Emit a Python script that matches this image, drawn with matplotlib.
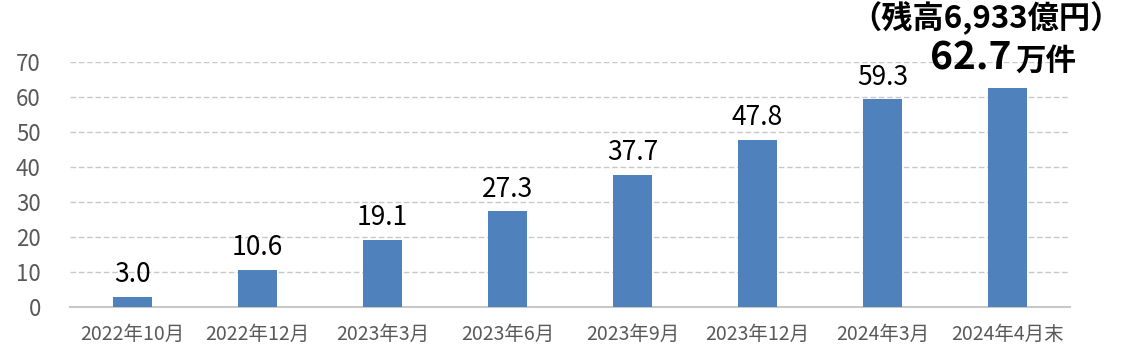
import matplotlib.pyplot as plt

plt.rcParams["font.family"] = ["Noto Sans CJK JP", "DejaVu Sans"]

categorias = ["2022年10月", "2022年12月", "2023年3月", "2023年6月",
              "2023年9月", "2023年12月", "2024年3月", "2024年4月末"]
valores = [3.0, 10.6, 19.1, 27.3, 37.7, 47.8, 59.3, 62.7]
etiquetas = ["3.0", "10.6", "19.1", "27.3", "37.7", "47.8", "59.3"]
yticks = [0, 10, 20, 30, 40, 50, 60, 70]

titulo = "（残高6,933億円）"
total = "62.7"
unidad = "万件"

COLOR_BARRA = "#4f81bd"
COLOR_TEXTO = "#595959"

W, H = 1132, 359


def main():
    fig = plt.figure(figsize=(W / 100, H / 100), dpi=100)
    ax = fig.add_axes([70 / W, 1 - 307 / H, 1000 / W, 245 / H])

    x = range(len(categorias))
    ax.bar(x, valores, width=0.31, color=COLOR_BARRA, zorder=3)

    ax.set_xlim(-0.5, len(categorias) - 0.5)
    ax.set_ylim(0, 70)
    ax.set_yticks(yticks)
    ax.set_xticks(list(x))
    ax.set_xticklabels(categorias)
    ax.tick_params(axis="x", length=0, pad=12, labelsize=14, labelcolor=COLOR_TEXTO)
    ax.tick_params(axis="y", length=0, pad=21, labelsize=16, labelcolor=COLOR_TEXTO)

    ax.grid(axis="y", color="#c8c8c8", linestyle=(0, (4, 2)), linewidth=1, zorder=0)
    for lado in ["top", "right", "left"]:
        ax.spines[lado].set_visible(False)
    ax.spines["bottom"].set_color("#c8c8c8")
    ax.spines["bottom"].set_linewidth(1.5)

    for i, txt in enumerate(etiquetas):
        ax.text(i, valores[i] + 2.5, txt, ha="center", va="bottom",
                fontsize=19, color="black")

    # rotulo destacado de la ultima barra
    fig.text(1012 / W, 1 - 70 / H, total, ha="right", va="baseline",
             fontsize=28, fontweight="bold", color="black")
    fig.text(1015 / W, 1 - 70 / H, unidad, ha="left", va="baseline",
             fontsize=22, fontweight="bold", color="black")
    fig.text(986 / W, 1 - 1 / H, titulo, ha="center", va="top",
             fontsize=22.5, fontweight="bold", color="black")

    fig.savefig("out.png", dpi=100)
    plt.close(fig)


if __name__ == "__main__":
    main()
